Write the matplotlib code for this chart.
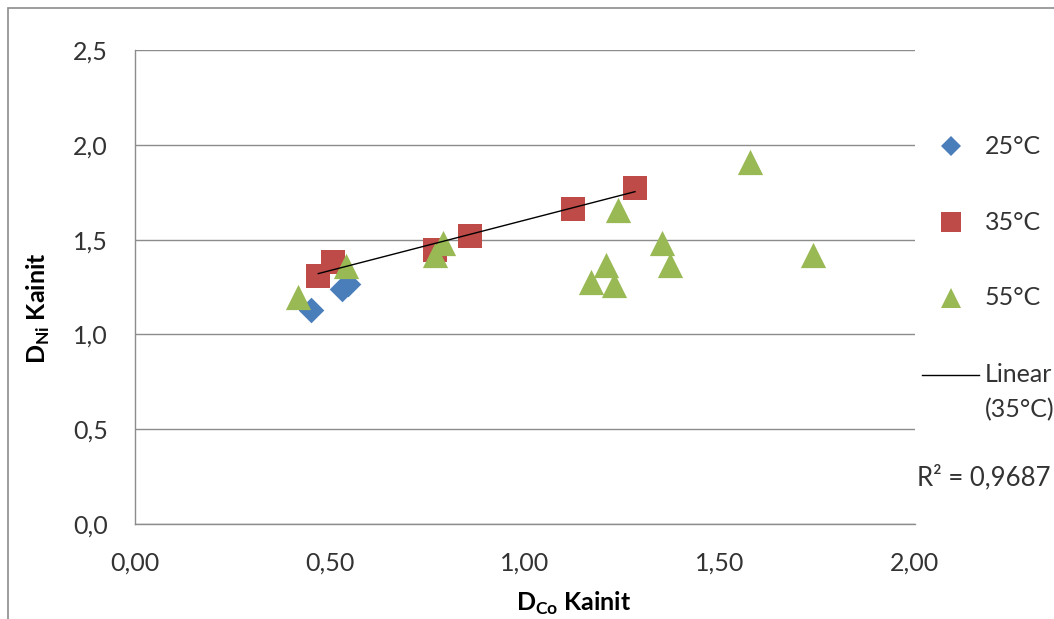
import matplotlib
matplotlib.use('Agg')
import matplotlib.pyplot as plt
import numpy as np
from matplotlib.lines import Line2D

plt.rcParams['font.family'] = ['Lato', 'DejaVu Sans']

# values
x_25 = [0.451, 0.530, 0.545]
y_25 = [1.129, 1.238, 1.268]

x_35 = [0.470, 0.507, 0.769, 0.859, 1.124, 1.282]
y_35 = [1.308, 1.383, 1.445, 1.519, 1.661, 1.774]

x_55 = [0.419, 0.540, 0.769, 0.791, 1.169, 1.208, 1.229, 1.239, 1.352, 1.372, 1.577, 1.739]
y_55 = [1.199, 1.361, 1.419, 1.480, 1.278, 1.366, 1.261, 1.656, 1.480, 1.366, 1.911, 1.419]

legend_labels = ['25°C', '35°C', '55°C', 'Linear\n(35°C)']
r2_text = 'R² = 0,9687'
x_ticks = [0.0, 0.5, 1.0, 1.5, 2.0]
y_ticks = [0.0, 0.5, 1.0, 1.5, 2.0, 2.5]

blue = '#4a7ebb'
red = '#be4b48'
green = '#98b954'
grid_c = '#8c8c8c'
txt_c = '#333333'

fig = plt.figure(figsize=(10.54, 6.19), dpi=100)
W, H = 1054, 619
ax = fig.add_axes([135 / W, 1 - 524 / H, 780 / W, 474 / H])

ax.scatter(x_55, y_55, marker='^', s=330, color=green, zorder=3, linewidths=0)
ax.scatter(x_35, y_35, marker='s', s=280, color=red, zorder=2, linewidths=0)
ax.scatter(x_25, y_25, marker='D', s=170, color=blue, zorder=2, linewidths=0)

# linear trend on 35°C series
k, b = np.polyfit(x_35, y_35, 1)
xs = np.array([min(x_35), max(x_35)])
ax.plot(xs, k * xs + b, color='black', lw=1.0, zorder=4)

ax.set_xlim(0, 2.0)
ax.set_ylim(0, 2.5)
ax.set_xticks(x_ticks)
ax.set_yticks(y_ticks)
ax.set_xticklabels([f'{v:.2f}'.replace('.', ',') for v in x_ticks])
ax.set_yticklabels([f'{v:.1f}'.replace('.', ',') for v in y_ticks])
ax.tick_params(length=0, labelsize=18, colors=txt_c)
ax.tick_params(axis='y', pad=19.5)
ax.tick_params(axis='x', pad=20)
ax.yaxis.grid(True, color=grid_c, lw=1.0)
ax.set_axisbelow(True)
for s in ['top', 'right']:
    ax.spines[s].set_visible(False)
for s in ['left', 'bottom']:
    ax.spines[s].set_color(grid_c)
    ax.spines[s].set_linewidth(1.0)

ax.set_xlabel(r'D$_{\mathregular{Co}}$ Kainit', fontsize=18, fontweight='bold', color='black')
ax.set_ylabel(r'D$_{\mathregular{Ni}}$ Kainit', fontsize=18, fontweight='bold', color='black')
ax.xaxis.set_label_coords((574 - 135) / 780, -(590 - 524) / 474)
ax.yaxis.set_label_coords(-(135 - 52) / 780, (524 - 308) / 474)

# legend drawn by hand to the right of the plot
leg_y = [146, 222, 298]
leg_marks = [('D', 10, blue), ('s', 15, red), ('^', 15, green)]
for yy, (m, ms, c), lab in zip(leg_y, leg_marks, legend_labels[:3]):
    fig.add_artist(Line2D([951 / W], [1 - yy / H], marker=m, ms=ms, color=c, mew=0,
                          ls='none', transform=fig.transFigure))
    fig.text(985 / W, 1 - yy / H, lab, fontsize=18, va='center', ha='left', color=txt_c)
fig.add_artist(Line2D([922 / W, 979 / W], [1 - 375 / H] * 2, color='black', lw=1.0,
                      transform=fig.transFigure))
line1, line2 = legend_labels[3].split('\n')
fig.text(985 / W, 1 - 375 / H, line1, fontsize=18, va='center', ha='left', color=txt_c)
fig.text(985 / W, 1 - 410 / H, line2, fontsize=18, va='center', ha='left', color=txt_c)
fig.text(917 / W, 1 - 477 / H, r2_text, fontsize=18.5, va='center', ha='left', color=txt_c)

# outer chart border
fig.add_artist(plt.Rectangle((8 / W, -0.1), 1.2, 1 - 8 / H + 0.1, transform=fig.transFigure,
                             fill=False, ec='#8c8c8c', lw=1.2))

fig.savefig('out.png', dpi=100)
